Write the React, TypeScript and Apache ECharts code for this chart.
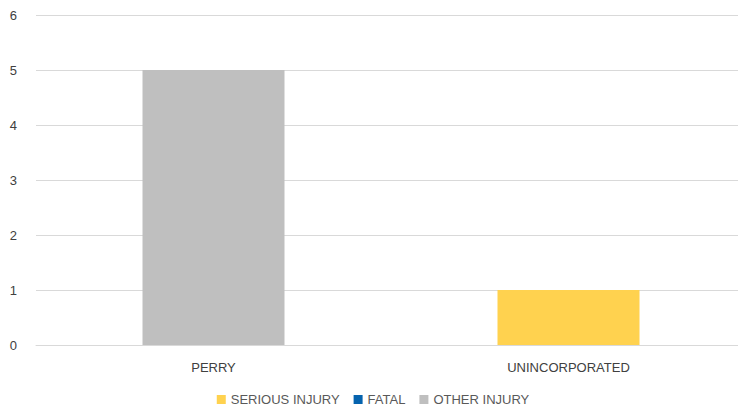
import React, { useEffect, useRef } from "react";
import * as echarts from "echarts";

const categories = ["PERRY", "UNINCORPORATED"];
const seriousInjury = [0, 1];
const fatal = [0, 0];
const otherInjury = [5, 0];
const seriesNames = ["SERIOUS INJURY", "FATAL", "OTHER INJURY"];
const colors = ["#FFD24F", "#0563AE", "#BFBFBF"];

export default function App() {
  const ref = useRef<HTMLDivElement>(null);
  useEffect(() => {
    if (!ref.current) return;
    const chart = echarts.init(ref.current, undefined, { renderer: "svg" });
    const font = "Liberation Sans, Arial, sans-serif";
    const data = [seriousInjury, fatal, otherInjury];
    chart.setOption({
      animation: false,
      textStyle: { fontFamily: font },
      grid: { left: 36, right: -7, top: 15, bottom: 68 },
      legend: {
        bottom: 2,
        left: "center",
        itemWidth: 9,
        itemHeight: 9,
        itemGap: 14,
        icon: "rect",
        textStyle: { color: "#595959", fontSize: 13, fontFamily: font },
        data: seriesNames,
      },
      xAxis: {
        type: "category",
        data: categories,
        axisLine: { lineStyle: { color: "#D9D9D9", width: 1 } },
        axisTick: { show: false },
        axisLabel: { color: "#404040", fontSize: 13, margin: 16, fontFamily: font },
      },
      yAxis: {
        type: "value",
        min: 0,
        max: 6,
        interval: 1,
        axisLine: { show: false },
        axisTick: { show: false },
        axisLabel: { color: "#404040", fontSize: 13, margin: 19, fontFamily: font },
        splitLine: { lineStyle: { color: "#D9D9D9", width: 1 } },
      },
      series: seriesNames.map((name, i) => ({
        name,
        type: "bar",
        stack: "total",
        barWidth: "40%",
        itemStyle: { color: colors[i] },
        data: data[i],
      })),
    });
    return () => chart.dispose();
  }, []);
  return <div ref={ref} style={{ width: 746, height: 413, margin: -8 }} />;
}
